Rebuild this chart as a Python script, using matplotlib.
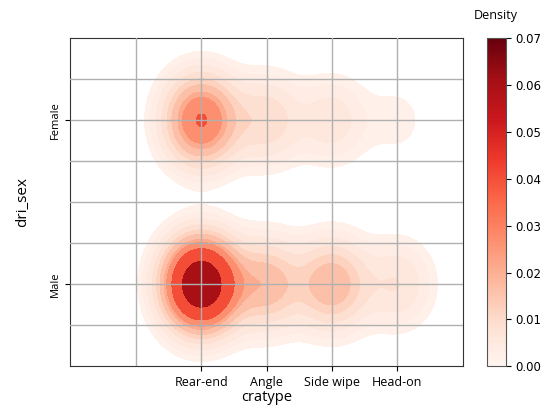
import numpy as np
import matplotlib
matplotlib.use("Agg")
import matplotlib.pyplot as plt
from matplotlib.colors import Normalize
from matplotlib.cm import ScalarMappable

# категории и оценённая плотность в центре каждой комбинации
crash_types = ["Rear-end", "Angle", "Side wipe", "Head-on"]
sexes = ["Male", "Female"]
male_peak = [0.070, 0.017, 0.018, 0.007]
female_peak = [0.0316, 0.0095, 0.006, 0.002]
cbar_ticks = [0.00, 0.01, 0.02, 0.03, 0.04, 0.05, 0.06, 0.07]

# уровни контуров (как у seaborn: больше светлых полос у края)
levels = [0.0015, 0.0027, 0.0045, 0.0072, 0.0105, 0.014, 0.019, 0.0227, 0.031, 0.0503]
bw_x, bw_y = 0.35, 0.17

# сетка для плотности
xx, yy = np.meshgrid(np.linspace(-2, 4, 500), np.linspace(-0.5, 1.5, 400))
zz = np.zeros_like(xx)
for row, peaks in enumerate([male_peak, female_peak]):
    for col, p in enumerate(peaks):
        zz += p * np.exp(-0.5 * (((xx - col) / bw_x) ** 2 + ((yy - row) / bw_y) ** 2))

fig = plt.figure(figsize=(5.46, 4.07), dpi=100)
ax = fig.add_axes([0.1288, 0.1, 0.7187, 0.806])
cax = fig.add_axes([0.8914, 0.1, 0.0348, 0.806])

norm = Normalize(0, 0.07)
ax.contourf(xx, yy, zz, levels=levels + [zz.max()], cmap="Reds", norm=norm, zorder=1)

ax.set_xlim(-2, 4)
ax.set_ylim(-0.5, 1.5)
ax.set_xticks(range(len(crash_types)))
ax.set_xticklabels(crash_types, fontsize=9, family="Open Sans")
ax.set_xticks([-1], minor=True)
ax.set_yticks(range(len(sexes)))
ax.set_yticklabels(sexes, fontsize=8, family="Open Sans", rotation=90, va="center")
ax.set_yticks([-0.25, 0.25, 0.5, 0.75, 1.25], minor=True)
ax.tick_params(which="minor", length=0)
ax.grid(True, which="both", color="#b0b0b0", linewidth=1, zorder=3)
ax.set_axisbelow(False)
ax.set_xlabel("cratype", fontsize=10.5, family="Open Sans", labelpad=1)
ax.set_ylabel("dri_sex", fontsize=11, family="Open Sans", labelpad=14)
for s in ax.spines.values():
    s.set_color("#333333")

cb = fig.colorbar(ScalarMappable(norm=norm, cmap="Reds"), cax=cax)
cb.set_ticks(cbar_ticks)
cb.ax.set_yticklabels([f"{t:.2f}" for t in cbar_ticks], fontsize=8.5)
cb.outline.set_edgecolor("#555555")
cax.set_title("Density", fontsize=9, family="Open Sans", pad=14)

fig.savefig("out.png", dpi=100)
